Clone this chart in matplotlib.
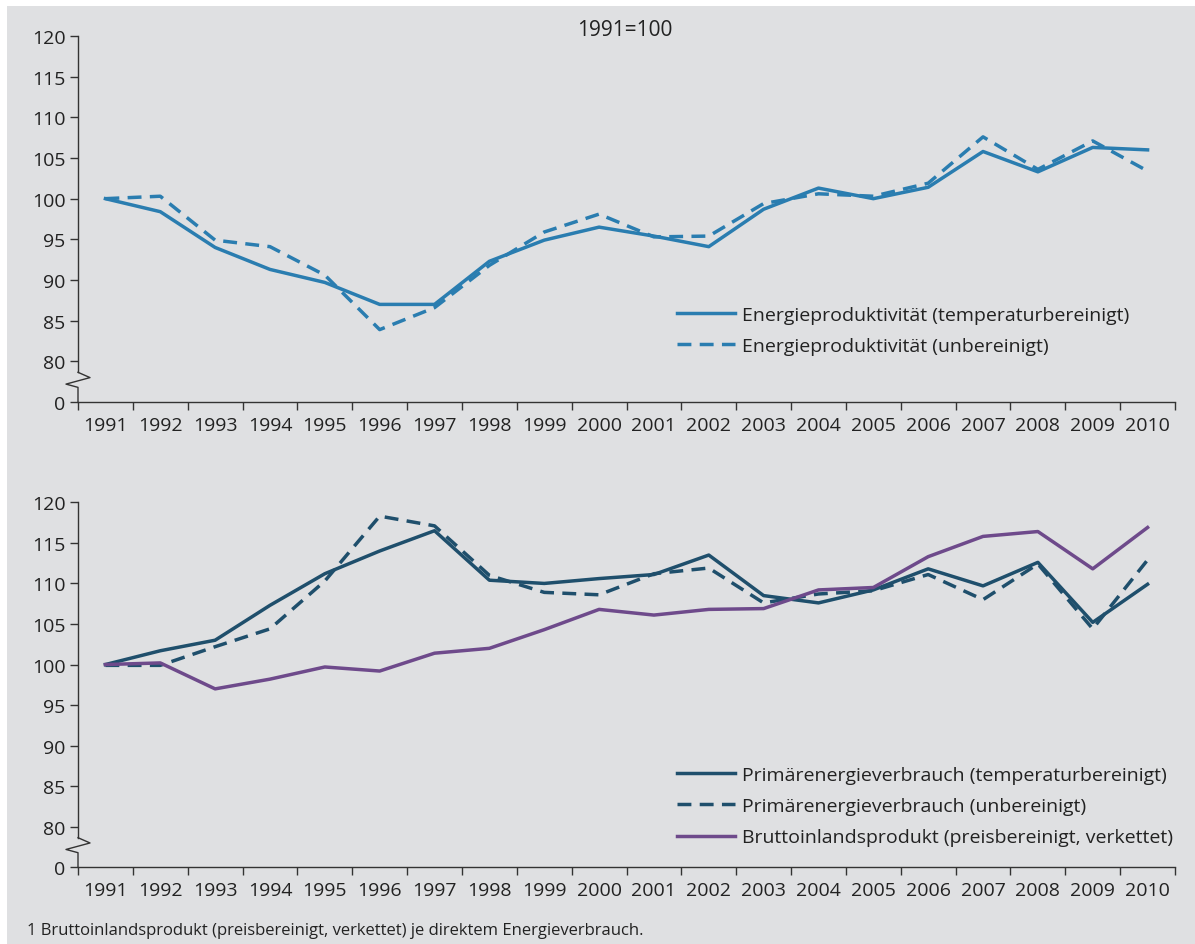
import matplotlib.pyplot as plt
from matplotlib.patches import Rectangle
from matplotlib.lines import Line2D
import numpy as np

plt.rcParams['font.family'] = ['Open Sans', 'DejaVu Sans']

years = [str(y) for y in range(1991, 2011)]

# Energieproduktivitaet, 1991=100
ep_temp = [100, 98.4, 94.0, 91.3, 89.7, 87.0, 87.0, 92.3, 94.9, 96.5,
           95.4, 94.1, 98.7, 101.3, 100.0, 101.4, 105.8, 103.3, 106.3, 106.0]
ep_unb = [100, 100.3, 94.9, 94.1, 90.6, 83.9, 86.6, 91.8, 95.9, 98.1,
          95.3, 95.4, 99.4, 100.6, 100.3, 101.9, 107.6, 103.6, 107.1, 103.4]

# Primaerenergieverbrauch und BIP, 1991=100
pev_temp = [100, 101.7, 103.0, 107.3, 111.2, 114.0, 116.5, 110.4, 110.0, 110.6,
            111.1, 113.5, 108.5, 107.6, 109.2, 111.8, 109.7, 112.6, 105.2, 109.9]
pev_unb = [99.9, 99.9, 102.2, 104.4, 110.3, 118.3, 117.1, 111.0, 108.9, 108.6,
           111.2, 111.9, 107.6, 108.7, 109.1, 111.1, 108.0, 112.4, 104.4, 112.9]
bip = [100, 100.2, 97.0, 98.2, 99.7, 99.2, 101.4, 102.0, 104.3, 106.8,
       106.1, 106.8, 106.9, 109.2, 109.5, 113.3, 115.8, 116.4, 111.8, 116.9]

yticks = [80, 85, 90, 95, 100, 105, 110, 115, 120]
ytick_labels = [str(t) for t in yticks]

BLUE = '#2a7db0'
DARK = '#1f4f6c'
PURPLE = '#6e4a8b'
BG = '#dfe0e2'
TXT = '#222222'
FS = 14

W, H = 1195, 945
fig = plt.figure(figsize=(W / 100, H / 100), dpi=100)
fig.patch.set_facecolor('white')
fig.add_artist(Rectangle((7 / W, 0), 1, (H - 7) / H, transform=fig.transFigure,
                         facecolor=BG, edgecolor='none', zorder=0))

BREAK = 75  # position where the "0" sits below the axis break
x = np.arange(len(years))


def style_axis(ax):
    ax.set_facecolor('none')
    ax.set_xlim(-0.5, len(years) - 0.5)
    ax.set_ylim(BREAK, 120)
    for s in ['top', 'right', 'left']:
        ax.spines[s].set_visible(False)
    ax.spines['bottom'].set_color('#333333')
    ax.spines['bottom'].set_linewidth(1.0)
    ax.set_yticks([BREAK] + yticks)
    ax.set_yticklabels(['0'] + ytick_labels)
    ax.set_xticks(np.arange(-0.5, len(years)), labels=[''] * (len(years) + 1))
    ax.set_xticks(x, minor=True)
    ax.set_xticklabels(years, minor=True)
    ax.tick_params(axis='x', which='major', length=6, width=1.0, color='#333333')
    ax.tick_params(axis='x', which='minor', length=0, pad=10, labelsize=FS, labelcolor=TXT)
    ax.tick_params(axis='y', length=6, width=1.0, color='#333333', labelsize=FS,
                   labelcolor=TXT, pad=3)
    # left spine with zigzag break
    tr = ax.get_yaxis_transform()
    dx = 12 / (0.918 * W)
    ax.add_line(Line2D([0, 0], [120, 78.65], transform=tr, color='#333333',
                       lw=1.0, clip_on=False))
    ax.add_line(Line2D([0, dx, -dx, 0, 0], [78.65, 78.0, 77.2, 76.8, BREAK],
                       transform=tr, color='#333333', lw=1.0, clip_on=False))


def add_legend(ax, top_px):
    ax.legend(loc='upper left', bbox_to_anchor=(677 / W, (H - top_px) / H),
              bbox_transform=fig.transFigure, frameon=False, fontsize=FS,
              handlelength=3.0, handletextpad=0.35, labelspacing=0.68,
              borderpad=0, borderaxespad=0, labelcolor=TXT)


ax1 = fig.add_axes([78 / W, 542 / H, 0.918, 0.3873])
style_axis(ax1)
ax1.plot(x, ep_temp, color=BLUE, lw=2.5, label='Energieproduktivität (temperaturbereinigt)')
ax1.plot(x, ep_unb, color=BLUE, lw=2.5, ls=(0, (4, 2.4)),
         label='Energieproduktivität (unbereinigt)')
add_legend(ax1, 307)

ax2 = fig.add_axes([78 / W, 76.7 / H, 0.918, 0.3862])
style_axis(ax2)
ax2.plot(x, pev_temp, color=DARK, lw=2.5, label='Primärenergieverbrauch (temperaturbereinigt)')
ax2.plot(x, pev_unb, color=DARK, lw=2.5, ls=(0, (4, 2.4)),
         label='Primärenergieverbrauch (unbereinigt)')
ax2.plot(x, bip, color=PURPLE, lw=2.5, label='Bruttoinlandsprodukt (preisbereinigt, verkettet)')
add_legend(ax2, 767)

fig.text(625 / W, (H - 31) / H, '1991=100', ha='center', va='center',
         fontsize=15, color=TXT)
fig.text(27 / W, (H - 931) / H,
         '1 Bruttoinlandsprodukt (preisbereinigt, verkettet) je direktem Energieverbrauch.',
         ha='left', va='center', fontsize=12, color=TXT)

fig.savefig('out.png', dpi=100, facecolor=fig.get_facecolor())
